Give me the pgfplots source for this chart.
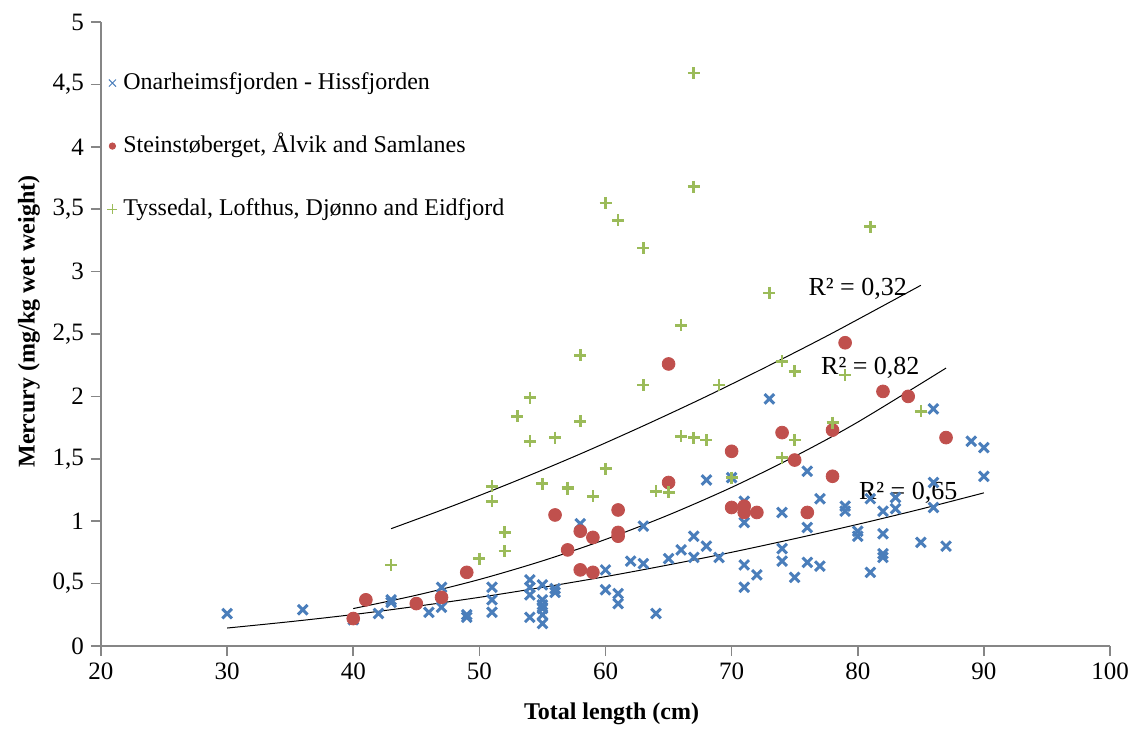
\documentclass[border=0pt]{standalone}
\usepackage{fontspec}
\setmainfont{Liberation Serif}
\usepackage{pgfplots}
\pgfplotsset{compat=1.18}
\definecolor{cblue}{HTML}{4A7EBB}
\definecolor{cred}{HTML}{C0504D}
\definecolor{cgreen}{HTML}{9BBB59}
\definecolor{axgray}{HTML}{868686}
\begin{document}
\begin{tikzpicture}
\path[use as bounding box] (-50.5pt,-41pt) rectangle (518.5pt,323pt);
\begin{axis}[
  scale only axis, width=504.5pt, height=312pt,
  xmin=20, xmax=100, ymin=0, ymax=5,
  axis lines=left,
  axis line style={-, axgray, line width=0.8pt},
  tick style={axgray, line width=0.8pt},
  tick align=outside, major tick length=5pt,
  xtick={20,30,...,100}, xticklabels={20,30,40,50,60,70,80,90,100},
  ytick={0,0.5,...,5}, yticklabels={0,{0,5},1,{1,5},2,{2,5},3,{3,5},4,{4,5},5},
  tick label style={font=\fontsize{12.5}{14}\selectfont, black},
  xlabel={Total length (cm)},
  xlabel style={at={(axis description cs:0.506,-0.109)}, anchor=center, font=\fontsize{12}{14}\selectfont\bfseries},
  ylabel={Mercury (mg/kg wet weight)},
  ylabel style={at={(axis description cs:-0.0714,0.52)}, anchor=center, font=\fontsize{12}{14}\selectfont\bfseries},
  legend cell align=left,
  legend style={draw=none, fill=none, at={(axis cs:20,4.61)}, anchor=north west, xshift=3pt,
    inner sep=0pt, row sep=19.5pt, column sep=3pt,
    nodes={inner sep=0pt, text height=9pt, text depth=3pt},
    font=\fontsize{12}{14}\selectfont},
]
\addplot[only marks, mark=x, mark size=3.4pt, cblue, mark options={line width=1.5pt},
  legend image code/.code={\draw[cblue, mark=x, mark size=2.5pt, mark options={line width=0.5pt}] plot coordinates {(0cm,0cm)};}]
table {
x y
30 0.26
36 0.29
40 0.21
42 0.26
43 0.37
43 0.35
46 0.27
47 0.47
47 0.31
49 0.25
49 0.23
51 0.47
51 0.37
51 0.27
54 0.53
54 0.47
54 0.41
54 0.23
55 0.49
55 0.37
55 0.33
55 0.30
55 0.25
55 0.18
56 0.46
56 0.43
58 0.98
60 0.61
60 0.45
61 0.42
61 0.34
62 0.68
63 0.96
63 0.66
64 0.26
65 0.70
66 0.77
67 0.88
67 0.71
68 1.33
68 0.80
69 0.71
70 1.35
71 1.16
71 0.99
71 0.65
71 0.47
72 0.57
73 1.98
74 1.07
74 0.78
74 0.68
75 0.55
76 1.40
76 0.95
76 0.67
77 1.18
77 0.64
79 1.12
79 1.08
80 0.92
80 0.88
81 1.18
81 0.59
82 1.08
82 0.90
82 0.74
82 0.71
83 1.19
83 1.10
85 0.83
86 1.90
86 1.31
86 1.11
87 0.80
89 1.64
90 1.59
90 1.36
};
\addlegendentry{Onarheimsfjorden - Hissfjorden}
\addplot[only marks, mark=*, mark size=3.2pt, cred, mark options={draw=cred, fill=cred},
  legend image code/.code={\draw[cred, mark=*, mark size=1.6pt, mark options={draw=cred, fill=cred}] plot coordinates {(0cm,0cm)};}]
table {
x y
40 0.22
41 0.37
45 0.34
47 0.39
49 0.59
56 1.05
57 0.77
58 0.92
58 0.61
59 0.87
59 0.59
61 1.09
61 0.91
61 0.88
65 2.26
65 1.31
70 1.56
70 1.11
71 1.12
71 1.07
72 1.07
74 1.71
75 1.49
76 1.07
78 1.73
78 1.36
79 2.43
82 2.04
84 2.00
87 1.67
};
\addlegendentry{Steinstøberget, Ålvik and Samlanes}
\addplot[only marks, mark=+, mark size=3pt, cgreen, mark options={line width=1.3pt},
  legend image code/.code={\draw[cgreen, mark=+, mark size=2.5pt, mark options={line width=0.5pt}] plot coordinates {(0cm,0cm)};}]
table {
x y
43 0.65
50 0.70
51 1.28
51 1.16
52 0.91
52 0.76
53 1.84
54 1.99
54 1.64
55 1.30
56 1.67
57 1.27
57 1.26
58 2.33
58 1.80
59 1.20
60 3.55
60 1.42
61 3.41
63 3.19
63 2.09
64 1.24
65 1.23
66 2.57
66 1.68
67 4.59
67 3.68
67 1.67
68 1.65
69 2.09
70 1.35
73 2.83
74 2.28
74 1.51
75 2.20
75 1.65
78 1.79
79 2.17
81 3.36
85 1.88
};
\addlegendentry{Tyssedal, Lofthus, Djønno and Eidfjord}
% trend lines
\addplot[black, line width=0.5pt, smooth, forget plot] coordinates {
(43,0.94) (48,1.127) (53,1.327) (58,1.539) (63,1.764) (68,2.000) (73,2.249) (78,2.508) (85,2.890)};
\addplot[black, line width=0.5pt, smooth, forget plot] coordinates {
(40,0.30) (45,0.407) (50,0.533) (55,0.682) (60,0.854) (65,1.050) (70,1.271) (75,1.519) (80,1.794) (87,2.227)};
\addplot[black, line width=0.5pt, smooth, forget plot] coordinates {
(30,0.144) (35,0.195) (40,0.252) (45,0.318) (50,0.390) (55,0.470) (60,0.556) (65,0.650) (70,0.751) (75,0.860) (80,0.975) (85,1.097) (90,1.227)};
\node[font=\fontsize{13}{15}\selectfont] at (axis cs:80,2.86) {R² = 0,32};
\node[font=\fontsize{13}{15}\selectfont] at (axis cs:81,2.23) {R² = 0,82};
\node[font=\fontsize{13}{15}\selectfont] at (axis cs:84,1.23) {R² = 0,65};
\end{axis}
\end{tikzpicture}
\end{document}
